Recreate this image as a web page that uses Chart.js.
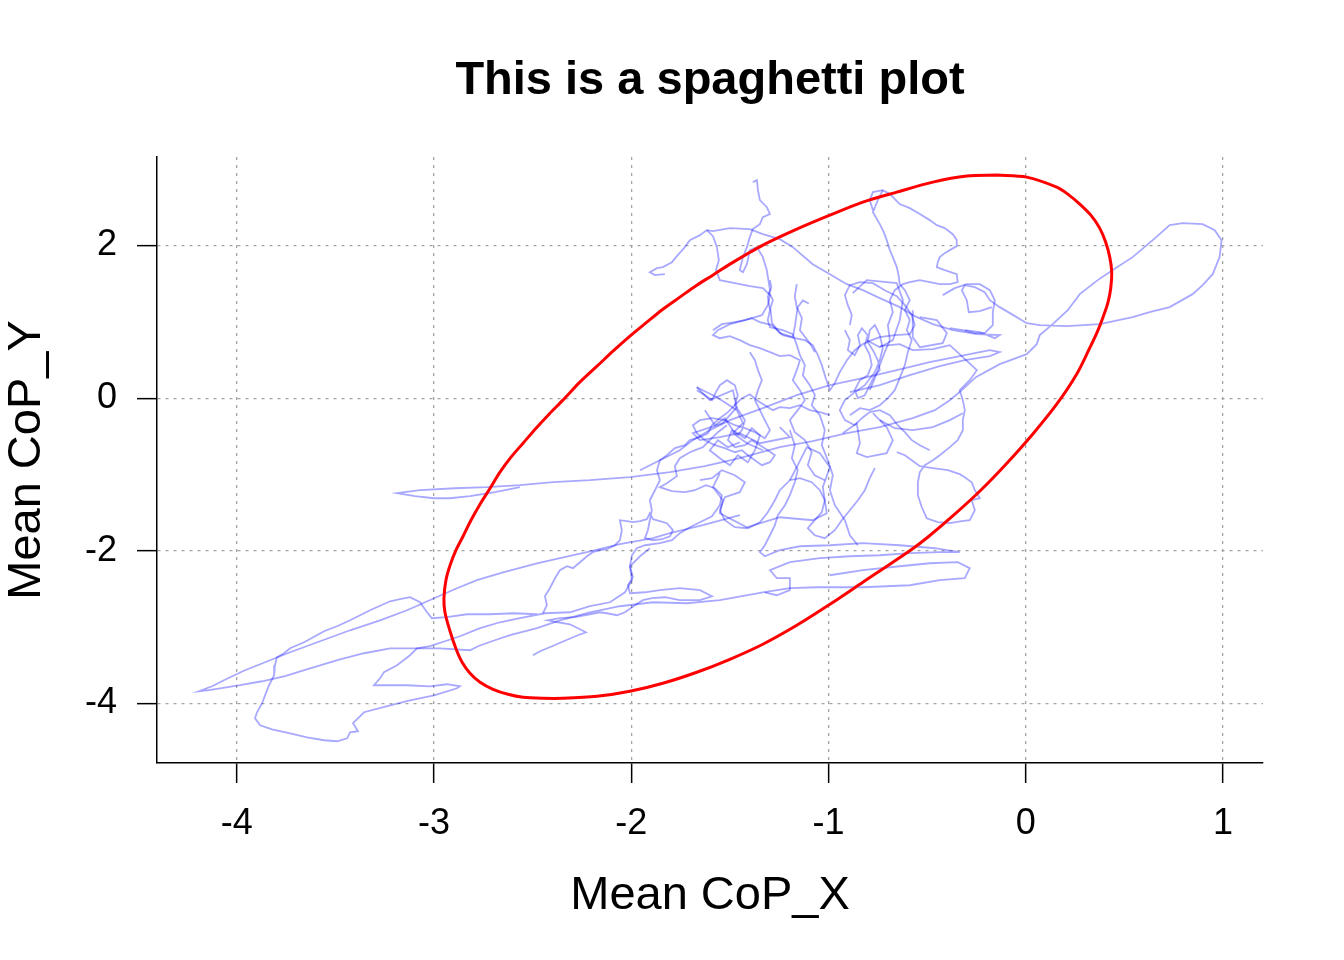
<!DOCTYPE html>
<html>
<head>
<meta charset="utf-8">
<title>Spaghetti plot</title>
<script src="https://cdn.jsdelivr.net/npm/chart.js@4.4.1/dist/chart.umd.min.js"></script>
<style>
  html, body { margin: 0; padding: 0; background: #ffffff; }
  canvas { display: block; }
</style>
</head>
<body>
<canvas id="spaghettiChart" width="1344" height="960"></canvas>
<script>
// Eixos
const xTicks = [-4, -3, -2, -1, 0, 1];
const yTicks = [-4, -2, 0, 2];
const xRange = [-4.405, 1.203];
const yRange = [-4.78, 3.16];

// Trajetórias do CoP (x, y)
const path01 = [[-2.565,-1.166],[-2.691,-1.232],[-2.818,-1.284],[-2.919,-1.311],[-3.000,-1.311],[-3.097,-1.284],[-3.188,-1.245],[-3.071,-1.206],[-2.894,-1.180],[-2.732,-1.166],[-2.565,-1.140],[-2.397,-1.101],[-2.210,-1.075],[-2.007,-1.035],[-1.804,-0.970],[-1.627,-0.891],[-1.450,-0.786],[-1.247,-0.642],[-1.080,-0.564],[-0.907,-0.459],[-0.740,-0.380],[-0.573,-0.262],[-0.461,-0.157],[-0.385,-0.026],[-0.324,0.105],[-0.253,0.275],[-0.132,0.446],[0.005,0.577],[0.056,0.708],[0.071,0.826],[0.137,0.970],[0.213,1.153],[0.274,1.363],[0.365,1.547],[0.441,1.678],[0.542,1.848],[0.644,2.071],[0.730,2.267],[0.796,2.294],[0.897,2.280],[0.958,2.202],[0.993,2.071],[0.983,1.848],[0.948,1.625],[0.897,1.481],[0.846,1.363],[0.730,1.193],[0.628,1.127],[0.542,1.062],[0.375,0.970],[0.208,0.944],[0.071,0.957],[0.005,0.983],[-0.046,1.062],[-0.132,1.193],[-0.182,1.284],[-0.208,1.389],[-0.258,1.455],[-0.309,1.481],[-0.324,1.415],[-0.299,1.284],[-0.289,1.127],[-0.233,1.140],[-0.172,1.193]];
const path02 = [[-1.450,-1.533],[-1.637,-1.664],[-1.804,-1.769],[-1.890,-1.835],[-2.058,-1.913],[-2.225,-2.018],[-2.362,-2.097],[-2.478,-2.163],[-2.646,-2.280],[-2.783,-2.385],[-2.884,-2.490],[-3.000,-2.621],[-3.137,-2.779],[-3.274,-2.910],[-3.426,-3.041],[-3.578,-3.185],[-3.730,-3.329],[-3.857,-3.460],[-3.959,-3.565],[-4.045,-3.670],[-4.126,-3.775],[-4.192,-3.840],[-4.151,-3.827],[-4.085,-3.801],[-3.984,-3.761],[-3.872,-3.709],[-3.756,-3.643],[-3.629,-3.539],[-3.477,-3.421],[-3.355,-3.342],[-3.223,-3.277],[-3.087,-3.277],[-2.970,-3.277],[-2.818,-3.303],[-2.777,-3.250],[-2.707,-3.185],[-2.615,-3.106],[-2.478,-3.014],[-2.362,-2.910],[-2.210,-2.805],[-2.058,-2.726],[-1.890,-2.674],[-1.718,-2.687],[-1.551,-2.647],[-1.333,-2.543],[-1.196,-2.490],[-1.059,-2.477],[-0.826,-2.477],[-0.588,-2.451],[-0.436,-2.385],[-0.309,-2.359],[-0.284,-2.228],[-0.345,-2.149],[-0.487,-2.163],[-0.639,-2.202],[-0.826,-2.254],[-0.993,-2.320]];
const path03 = [[-2.478,-2.831],[-2.595,-2.818],[-2.717,-2.831],[-2.833,-2.831],[-2.935,-2.870],[-3.011,-2.883],[-3.036,-2.805],[-3.071,-2.674],[-3.122,-2.608],[-3.173,-2.634],[-3.223,-2.661],[-3.325,-2.779],[-3.426,-2.910],[-3.492,-2.988],[-3.558,-3.054],[-3.659,-3.198],[-3.730,-3.277],[-3.761,-3.342],[-3.797,-3.395],[-3.807,-3.499],[-3.811,-3.630],[-3.837,-3.761],[-3.857,-3.893],[-3.872,-3.997],[-3.898,-4.115],[-3.908,-4.194],[-3.882,-4.286],[-3.822,-4.338],[-3.730,-4.391],[-3.644,-4.443],[-3.558,-4.482],[-3.492,-4.495],[-3.441,-4.456],[-3.426,-4.377],[-3.386,-4.364],[-3.411,-4.259],[-3.355,-4.115],[-3.223,-4.024],[-3.122,-3.958],[-3.000,-3.893],[-2.884,-3.801],[-2.869,-3.775],[-2.935,-3.748],[-3.021,-3.775],[-3.137,-3.761],[-3.305,-3.761],[-3.274,-3.670],[-3.254,-3.591],[-3.188,-3.499],[-3.122,-3.368],[-3.087,-3.277],[-3.021,-3.250],[-2.945,-3.185],[-2.869,-3.119],[-2.767,-3.014],[-2.666,-2.936],[-2.565,-2.883],[-2.438,-2.818],[-2.311,-2.805],[-2.210,-2.726],[-2.108,-2.674],[-2.032,-2.543],[-1.997,-2.385],[-2.007,-2.202],[-1.956,-2.071],[-1.906,-1.966]];
const path04 = [[-2.499,-3.368],[-2.463,-3.316],[-2.402,-3.250],[-2.331,-3.172],[-2.271,-3.106],[-2.230,-3.067],[-2.260,-3.028],[-2.311,-2.962],[-2.372,-2.936],[-2.423,-2.910],[-2.362,-2.883],[-2.286,-2.870],[-2.210,-2.831],[-2.159,-2.805],[-2.124,-2.818],[-2.073,-2.844],[-2.032,-2.805],[-1.982,-2.713],[-1.941,-2.647],[-1.896,-2.621],[-1.830,-2.608],[-1.754,-2.647],[-1.652,-2.647],[-1.591,-2.595],[-1.652,-2.516],[-1.754,-2.490],[-1.855,-2.516],[-1.931,-2.543],[-2.007,-2.556],[-2.017,-2.451],[-1.992,-2.346],[-2.007,-2.202],[-1.997,-2.058],[-1.972,-1.966],[-1.931,-1.927],[-1.855,-1.900],[-1.794,-1.861],[-1.754,-1.769],[-1.703,-1.691],[-1.652,-1.625],[-1.591,-1.547],[-1.551,-1.402],[-1.541,-1.271],[-1.576,-1.180],[-1.622,-1.140],[-1.678,-1.206],[-1.728,-1.232],[-1.794,-1.219],[-1.855,-1.166],[-1.820,-1.114],[-1.769,-1.022],[-1.779,-0.891],[-1.754,-0.786],[-1.703,-0.708],[-1.637,-0.642],[-1.602,-0.550],[-1.561,-0.446],[-1.515,-0.354]];
const path05 = [[-2.448,-2.818],[-2.428,-2.713],[-2.438,-2.595],[-2.413,-2.490],[-2.387,-2.359],[-2.362,-2.254],[-2.326,-2.202],[-2.296,-2.228],[-2.260,-2.149],[-2.225,-2.071],[-2.195,-2.018],[-2.159,-1.992],[-2.124,-1.979],[-2.083,-1.927],[-2.058,-1.861],[-2.048,-1.730],[-2.058,-1.599],[-2.022,-1.612],[-1.992,-1.625],[-1.956,-1.612],[-1.921,-1.586],[-1.906,-1.507],[-1.890,-1.586],[-1.855,-1.612],[-1.820,-1.638],[-1.789,-1.730],[-1.804,-1.809],[-1.845,-1.848],[-1.890,-1.861],[-1.931,-1.835],[-1.916,-1.730],[-1.906,-1.599],[-1.896,-1.468],[-1.906,-1.337],[-1.880,-1.206],[-1.855,-1.075],[-1.870,-0.944],[-1.855,-0.813],[-1.820,-0.747],[-1.779,-0.655],[-1.728,-0.616],[-1.703,-0.550],[-1.652,-0.511],[-1.612,-0.459],[-1.591,-0.354],[-1.551,-0.262],[-1.510,-0.183],[-1.475,-0.092],[-1.439,0.000],[-1.399,0.052],[-1.363,-0.026],[-1.323,-0.092],[-1.282,-0.157],[-1.247,-0.118],[-1.196,-0.131],[-1.145,-0.092],[-1.095,-0.157],[-1.044,-0.183],[-0.993,-0.223]];
const path06 = [[-1.830,1.625],[-1.880,1.612],[-1.906,1.651],[-1.870,1.704],[-1.840,1.717],[-1.794,1.782],[-1.769,1.861],[-1.733,1.966],[-1.703,2.071],[-1.652,2.136],[-1.617,2.202],[-1.586,2.189],[-1.500,2.228],[-1.399,2.215],[-1.333,2.149],[-1.247,2.084],[-1.181,1.979],[-1.080,1.756],[-0.993,1.625],[-0.907,1.494],[-0.826,1.415],[-0.740,1.311],[-0.639,1.193],[-0.563,1.075],[-0.471,0.970],[-0.370,0.891],[-0.248,0.839],[-0.132,0.826],[-0.157,0.786],[-0.233,0.865],[-0.309,0.891]];
const path07 = [[-1.617,2.202],[-1.586,2.123],[-1.566,1.979],[-1.556,1.809],[-1.571,1.678],[-1.551,1.547],[-1.475,1.507],[-1.399,1.468],[-1.333,1.442],[-1.297,1.350],[-1.308,1.219],[-1.338,1.088],[-1.424,1.022],[-1.500,0.970],[-1.561,0.891],[-1.586,0.826],[-1.551,0.786],[-1.500,0.813],[-1.450,0.760],[-1.399,0.695],[-1.348,0.655],[-1.297,0.603],[-1.247,0.550],[-1.196,0.564],[-1.145,0.498],[-1.161,0.367],[-1.181,0.236],[-1.145,0.105],[-1.120,-0.026],[-1.156,-0.157],[-1.196,-0.288],[-1.171,-0.446],[-1.120,-0.550],[-1.085,-0.708],[-1.105,-0.878],[-1.070,-1.009],[-1.019,-1.075]];
const path08 = [[-1.384,2.831],[-1.363,2.857],[-1.358,2.726],[-1.348,2.595],[-1.313,2.503],[-1.297,2.412],[-1.333,2.372],[-1.348,2.280],[-1.384,2.215],[-1.399,2.110],[-1.414,1.979],[-1.434,1.848],[-1.450,1.678],[-1.434,1.651],[-1.414,1.756],[-1.399,1.940],[-1.363,1.979],[-1.333,1.848],[-1.313,1.678],[-1.297,1.415],[-1.308,1.324],[-1.297,1.153],[-1.308,1.022],[-1.297,0.931],[-1.232,0.891],[-1.181,0.839],[-1.161,0.695],[-1.145,0.564],[-1.120,0.433],[-1.130,0.301],[-1.095,0.170],[-1.069,0.039],[-1.085,-0.092],[-1.044,-0.223],[-1.019,-0.419],[-1.034,-0.616],[-1.004,-0.813],[-0.978,-1.009],[-0.993,-1.206],[-0.968,-1.402],[-0.917,-1.599],[-0.892,-1.796],[-0.851,-1.927]];
const path09 = [[-0.775,2.464],[-0.791,2.595],[-0.775,2.700],[-0.725,2.726],[-0.689,2.674],[-0.639,2.543],[-0.588,2.490],[-0.537,2.412],[-0.487,2.333],[-0.451,2.267],[-0.411,2.228],[-0.370,2.149],[-0.350,2.071],[-0.350,1.992],[-0.385,1.940],[-0.411,1.900],[-0.436,1.848],[-0.446,1.782],[-0.451,1.717],[-0.411,1.678],[-0.350,1.625],[-0.345,1.520],[-0.385,1.494],[-0.436,1.494],[-0.487,1.520],[-0.537,1.547],[-0.588,1.520],[-0.623,1.494],[-0.664,1.415],[-0.689,1.284],[-0.674,1.127],[-0.699,0.957],[-0.689,0.760],[-0.715,0.603],[-0.740,0.433],[-0.765,0.262],[-0.791,0.105]];
const path10 = [[-0.725,2.726],[-0.750,2.595],[-0.775,2.438],[-0.740,2.280],[-0.720,2.176],[-0.705,2.071],[-0.689,1.940],[-0.674,1.848],[-0.654,1.717],[-0.644,1.599],[-0.639,1.494],[-0.613,1.415],[-0.588,1.284],[-0.613,1.153],[-0.588,1.022],[-0.603,0.891],[-0.578,0.760],[-0.598,0.603],[-0.613,0.433],[-0.639,0.262],[-0.664,0.105],[-0.699,0.000],[-0.740,-0.092],[-0.791,-0.157],[-0.841,-0.131],[-0.892,-0.223]];
const path11 = [[-0.740,0.682],[-0.639,0.708],[-0.573,0.629],[-0.471,0.642],[-0.385,0.695],[-0.319,0.537],[-0.248,0.367],[-0.284,0.236],[-0.335,0.105],[-0.319,-0.026],[-0.309,-0.157],[-0.319,-0.288],[-0.319,-0.419],[-0.345,-0.550],[-0.385,-0.642],[-0.436,-0.747],[-0.471,-0.813],[-0.512,-0.878],[-0.537,-0.970],[-0.547,-1.101],[-0.547,-1.271],[-0.527,-1.429],[-0.502,-1.573],[-0.446,-1.625],[-0.385,-1.638],[-0.324,-1.612],[-0.284,-1.599],[-0.258,-1.468],[-0.274,-1.337],[-0.233,-1.311],[-0.258,-1.206],[-0.274,-1.101],[-0.309,-1.035],[-0.335,-0.996],[-0.395,-0.944],[-0.471,-0.917],[-0.537,-0.891],[-0.578,-0.813],[-0.613,-0.747],[-0.654,-0.708]];
const path12 = [[-1.668,0.105],[-1.627,0.039],[-1.591,-0.026],[-1.571,0.079],[-1.551,0.170],[-1.515,0.236],[-1.475,0.170],[-1.460,0.039],[-1.475,-0.092],[-1.450,-0.183],[-1.424,-0.288],[-1.439,-0.419],[-1.460,-0.485],[-1.490,-0.419],[-1.510,-0.550],[-1.475,-0.642],[-1.424,-0.616],[-1.389,-0.550],[-1.348,-0.616],[-1.308,-0.682],[-1.272,-0.747],[-1.297,-0.839],[-1.338,-0.878],[-1.373,-0.813],[-1.409,-0.747],[-1.439,-0.682],[-1.475,-0.708],[-1.526,-0.655],[-1.576,-0.616],[-1.627,-0.550],[-1.668,-0.459],[-1.688,-0.354],[-1.652,-0.288],[-1.591,-0.262],[-1.526,-0.288],[-1.475,-0.354],[-1.424,-0.393],[-1.373,-0.446],[-1.323,-0.524],[-1.297,-0.419],[-1.323,-0.288],[-1.348,-0.157],[-1.373,-0.026],[-1.358,0.105],[-1.338,0.236],[-1.358,0.367],[-1.373,0.498],[-1.399,0.603]];
const path13 = [[-0.917,0.891],[-0.892,0.760],[-0.902,0.629],[-0.867,0.564],[-0.841,0.695],[-0.851,0.826],[-0.831,0.917],[-0.801,0.826],[-0.816,0.695],[-0.791,0.564],[-0.781,0.433],[-0.801,0.301],[-0.841,0.236],[-0.867,0.105],[-0.851,0.000],[-0.816,0.039],[-0.791,0.170],[-0.765,0.301],[-0.740,0.367],[-0.750,0.498],[-0.775,0.629],[-0.801,0.734],[-0.791,0.891],[-0.765,0.957],[-0.740,0.826],[-0.725,0.655],[-0.740,0.498],[-0.765,0.341],[-0.816,0.170],[-0.867,0.079],[-0.917,-0.026],[-0.943,-0.157],[-0.917,-0.288],[-0.867,-0.354],[-0.831,-0.262],[-0.791,-0.183],[-0.740,-0.157],[-0.689,-0.223],[-0.649,-0.354],[-0.613,-0.446],[-0.578,-0.550],[-0.537,-0.616],[-0.487,-0.682]];
const path14 = [[-1.956,-0.944],[-1.855,-0.813],[-1.754,-0.682],[-1.688,-0.550],[-1.602,-0.419],[-1.500,-0.288],[-1.333,-0.131],[-1.161,0.039],[-0.993,0.170],[-0.826,0.262],[-0.654,0.367],[-0.487,0.472],[-0.309,0.564],[-0.182,0.629],[-0.132,0.603],[-0.182,0.550],[-0.309,0.498],[-0.436,0.419],[-0.588,0.301],[-0.740,0.170],[-0.892,0.079]];
const path15 = [[-1.196,-0.419],[-1.171,-0.616],[-1.186,-0.786],[-1.156,-0.944],[-1.171,-1.101],[-1.196,-1.271],[-1.221,-1.402],[-1.257,-1.533],[-1.272,-1.664],[-1.297,-1.796],[-1.323,-1.927],[-1.348,-2.018],[-1.323,-2.071],[-1.247,-1.992],[-1.145,-1.940],[-0.993,-1.927],[-0.826,-1.900],[-0.639,-1.927],[-0.461,-1.966],[-0.335,-2.018],[-0.436,-2.018],[-0.588,-2.031],[-0.740,-2.058],[-0.892,-2.071],[-1.044,-2.097],[-1.196,-2.149],[-1.297,-2.254],[-1.262,-2.359],[-1.196,-2.359],[-1.196,-2.516],[-1.262,-2.582],[-1.323,-2.543]];
const path16 = [[-1.586,0.891],[-1.541,0.970],[-1.475,0.996],[-1.424,1.022],[-1.389,1.048],[-1.348,0.996],[-1.287,0.957],[-1.232,0.826],[-1.171,0.786],[-1.120,0.760],[-1.080,0.695],[-1.054,0.564],[-1.034,0.433],[-1.014,0.262],[-0.993,0.105],[-0.968,0.197],[-0.943,0.341],[-0.907,0.498],[-0.867,0.629],[-0.826,0.708],[-0.781,0.760],[-0.740,0.799],[-0.664,0.826],[-0.588,0.839],[-0.563,0.957],[-0.578,1.088],[-0.613,1.219],[-0.654,1.337],[-0.715,1.415],[-0.775,1.507],[-0.841,1.520],[-0.892,1.481],[-0.917,1.350],[-0.902,1.219],[-0.882,1.088],[-0.892,0.957]];
const path17 = [[-1.652,-1.075],[-1.591,-1.048],[-1.541,-0.944],[-1.475,-1.009],[-1.424,-1.101],[-1.450,-1.232],[-1.526,-1.297],[-1.551,-1.468],[-1.526,-1.599],[-1.475,-1.691],[-1.409,-1.704],[-1.348,-1.625],[-1.308,-1.494],[-1.272,-1.337],[-1.247,-1.206],[-1.196,-1.075],[-1.145,-1.048],[-1.085,-1.101],[-1.044,-1.206],[-1.019,-1.337],[-1.034,-1.494],[-1.070,-1.599],[-1.105,-1.704],[-1.070,-1.796],[-1.019,-1.835],[-0.968,-1.730],[-0.933,-1.599],[-0.892,-1.468],[-0.851,-1.337],[-0.816,-1.206],[-0.791,-1.048],[-0.765,-0.917]];
const path18 = [[-0.421,1.350],[-0.360,1.442],[-0.299,1.494],[-0.233,1.494],[-0.182,1.415],[-0.157,1.284],[-0.167,1.127],[-0.167,0.957],[-0.208,0.852],[-0.258,0.852],[-0.319,0.891],[-0.385,0.917]];
const path19 = [[-1.297,1.547],[-1.290,1.450],[-1.300,1.380],[-1.282,1.284],[-1.295,1.180],[-1.287,0.983],[-1.247,0.852],[-1.181,0.799],[-1.170,0.950],[-1.161,1.114],[-1.156,1.193],[-1.130,1.280],[-1.100,1.240]];
const path20 = [[-0.877,1.376],[-0.806,1.547],[-0.654,1.507],[-0.623,1.284],[-0.639,1.022],[-0.674,0.760],[-0.740,0.668],[-0.806,0.760]];
const path21 = [[-0.573,1.153],[-0.573,0.799],[-0.537,0.668],[-0.421,0.721],[-0.400,0.852],[-0.451,1.022],[-0.537,1.062]];
const path22 = [[-1.668,0.144],[-1.602,-0.026],[-1.485,0.105],[-1.465,-0.118],[-1.536,-0.328],[-1.688,-0.459],[-1.652,-0.550],[-1.551,-0.511],[-1.450,-0.459],[-1.348,-0.590],[-1.196,-0.511],[-1.247,-0.380]];
const path23 = [[-1.551,-0.983],[-1.586,-1.166],[-1.536,-1.337],[-1.551,-1.507],[-1.414,-1.691],[-1.247,-1.560],[-1.080,-1.599],[-1.009,-1.507],[-1.029,-1.166],[-0.993,-0.904],[-1.044,-0.721],[-1.110,-0.642],[-1.161,-0.904],[-1.196,-1.075]];
const path24 = [[-0.928,-0.459],[-0.857,-0.328],[-0.841,-0.590],[-0.857,-0.721],[-0.806,-0.773],[-0.705,-0.721],[-0.674,-0.550],[-0.705,-0.380],[-0.775,-0.197]];
const path25 = [[-1.627,-0.157],[-1.576,-0.354],[-1.526,-0.262],[-1.485,-0.419],[-1.424,-0.524],[-1.389,-0.393],[-1.348,-0.485],[-1.373,-0.682],[-1.409,-0.839],[-1.460,-0.747],[-1.500,-0.878],[-1.551,-0.786],[-1.602,-0.682],[-1.561,-0.550],[-1.510,-0.642],[-1.450,-0.577]];
const path26 = [[-1.668,0.144],[-1.566,0.013],[-1.465,-0.157],[-1.434,-0.328],[-1.485,-0.459],[-1.414,-0.590],[-1.333,-0.682]];
const path27 = [[-1.161,1.494],[-1.171,1.337],[-1.161,1.193],[-1.135,1.048],[-1.145,0.891],[-1.095,0.721],[-1.069,0.603]];
const path28 = [[-0.740,-0.288],[-0.664,-0.393],[-0.573,-0.419],[-0.471,-0.380],[-0.385,-0.288],[-0.319,-0.197]];

// Elipse de confiança (contorno)
const ellipse = [[-0.147,2.923],[0.005,2.896],[0.157,2.765],[0.213,2.674],[0.274,2.543],[0.330,2.398],[0.375,2.228],[0.405,2.045],[0.426,1.848],[0.436,1.651],[0.431,1.441],[0.416,1.245],[0.390,1.048],[0.360,0.852],[0.324,0.655],[0.258,0.314],[0.157,-0.079],[0.035,-0.472],[-0.091,-0.839],[-0.223,-1.193],[-0.360,-1.520],[-0.497,-1.822],[-0.588,-1.999],[-0.826,-2.412],[-0.993,-2.701],[-1.161,-2.976],[-1.333,-3.224],[-1.500,-3.421],[-1.668,-3.591],[-1.840,-3.735],[-2.007,-3.840],[-2.174,-3.906],[-2.347,-3.932],[-2.448,-3.932],[-2.549,-3.919],[-2.625,-3.880],[-2.701,-3.814],[-2.767,-3.722],[-2.818,-3.604],[-2.858,-3.460],[-2.888,-3.290],[-2.919,-3.054],[-2.945,-2.805],[-2.950,-2.621],[-2.940,-2.385],[-2.919,-2.188],[-2.889,-1.992],[-2.853,-1.809],[-2.813,-1.599],[-2.767,-1.389],[-2.716,-1.180],[-2.666,-0.970],[-2.610,-0.773],[-2.549,-0.590],[-2.483,-0.393],[-2.417,-0.210],[-2.347,-0.026],[-2.261,0.210],[-2.174,0.419],[-2.093,0.616],[-2.007,0.813],[-1.921,0.996],[-1.840,1.166],[-1.754,1.324],[-1.668,1.481],[-1.587,1.612],[-1.500,1.756],[-1.333,2.005],[-1.161,2.215],[-0.993,2.398],[-0.826,2.569],[-0.654,2.700],[-0.471,2.831],[-0.299,2.910],[-0.147,2.923]];

const paths = [path01, path02, path03, path04, path05, path06, path07, path08, path09,
  path10, path11, path12, path13, path14, path15, path16, path17, path18, path19,
  path20, path21, path22, path23, path24, path25, path26, path27, path28];

const FONT = "'Liberation Sans', Arial, Helvetica, sans-serif";

const toPoints = (pairs) => pairs.map(p => ({ x: p[0], y: p[1] }));

// Elipse primeiro para ficar por cima
const datasets = [{
  data: toPoints(ellipse),
  showLine: true,
  borderColor: '#ff0000',
  borderWidth: 3,
  pointRadius: 0,
  tension: 0.3,
  fill: false
}];

paths.forEach(path => {
  datasets.push({
    data: toPoints(path),
    showLine: true,
    borderColor: 'rgba(0, 0, 255, 0.34)',
    borderWidth: 1.8,
    pointRadius: 0,
    tension: 0,
    fill: false
  });
});

const ctx = document.getElementById('spaghettiChart').getContext('2d');

new Chart(ctx, {
  type: 'scatter',
  data: { datasets: datasets },
  options: {
    responsive: false,
    animation: false,
    devicePixelRatio: 1,
    layout: { padding: { left: 0, right: 81, top: 0, bottom: 0 } },
    plugins: {
      legend: { display: false },
      tooltip: { enabled: false },
      title: {
        display: true,
        text: 'This is a spaghetti plot',
        fullSize: false,
        color: '#000000',
        font: { family: FONT, size: 47, weight: 'bold', lineHeight: 1 },
        padding: { top: 58, bottom: 52 }
      }
    },
    scales: {
      x: {
        type: 'linear',
        min: xRange[0],
        max: xRange[1],
        afterBuildTicks: (scale) => { scale.ticks = xTicks.map(v => ({ value: v })); },
        afterFit: (scale) => { scale.height = 197; },
        grid: {
          color: '#a3a3a3',
          lineWidth: 1.3,
          tickLength: 20,
          tickColor: '#000000',
          tickWidth: 1.5,
          tickBorderDash: []
        },
        border: { display: true, color: '#000000', width: 1.5, dash: [3, 5] },
        ticks: {
          autoSkip: false,
          maxRotation: 0,
          padding: 23,
          color: '#000000',
          font: { family: FONT, size: 36, lineHeight: 1 }
        },
        title: {
          display: true,
          text: 'Mean CoP_X',
          color: '#000000',
          font: { family: FONT, size: 47, lineHeight: 1 },
          padding: { top: 0, bottom: 40 }
        }
      },
      y: {
        type: 'linear',
        min: yRange[0],
        max: yRange[1],
        afterBuildTicks: (scale) => { scale.ticks = yTicks.map(v => ({ value: v })); },
        afterFit: (scale) => { scale.width = 157; },
        grid: {
          color: '#a3a3a3',
          lineWidth: 1.3,
          tickLength: 20,
          tickColor: '#000000',
          tickWidth: 1.5,
          tickBorderDash: []
        },
        border: { display: true, color: '#000000', width: 1.5, dash: [3, 5] },
        ticks: {
          autoSkip: false,
          padding: 20,
          color: '#000000',
          font: { family: FONT, size: 36, lineHeight: 1 }
        },
        title: {
          display: true,
          text: 'Mean CoP_Y',
          color: '#000000',
          font: { family: FONT, size: 47, lineHeight: 1 },
          padding: { top: 4, bottom: 0 }
        }
      }
    }
  }
});
</script>
</body>
</html>
